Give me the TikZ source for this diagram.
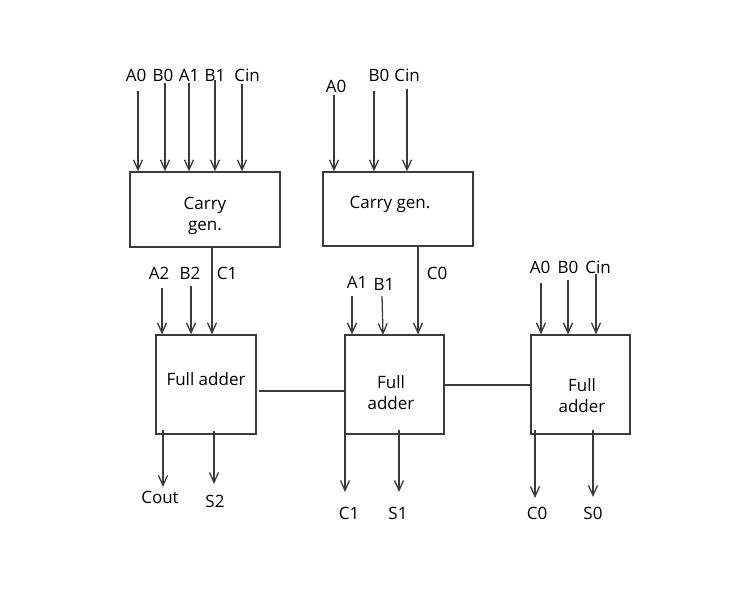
\documentclass[tikz,border=0pt]{standalone}
\usepackage{fontspec}
\setmainfont{Open Sans}
\usetikzlibrary{arrows.meta}
\definecolor{linec}{HTML}{3A3A3A}
\begin{document}
\begin{tikzpicture}[x=1pt,y=-1pt,
  box/.style={draw=linec, line width=1.3pt, inner sep=0pt},
  wire/.style={draw=linec, line width=1.3pt},
  arr/.style={wire, -{Straight Barb[length=10pt,width=9pt,line width=1.3pt]}},
  lbl/.style={font=\fontsize{17}{21}\selectfont, inner sep=0pt, align=center}]
\useasboundingbox[fill=white] (0,0) rectangle (747,609);

% boxes
\node[box, minimum width=150pt, minimum height=75pt] (cg1) at (205,209.5) {};
\node[box, minimum width=150pt, minimum height=74pt] (cg2) at (398,209) {};
\node[box, minimum width=100pt, minimum height=99pt] (fa2) at (206,384.5) {};
\node[box, minimum width=99pt, minimum height=99pt] (fa1) at (394.5,384.5) {};
\node[box, minimum width=99pt, minimum height=99pt] (fa0) at (580.5,384.5) {};

% box texts
\node[lbl] (tcg1) at (205,216) {Carry\\gen.};
\node[lbl] (tcg2) at (390,204) {Carry gen.};
\node[lbl] (tfa2) at (206,379) {Full adder};
\node[lbl] (tfa1) at (391,393) {Full\\adder};
\node[lbl] (tfa0) at (582,396) {Full\\adder};

% carry gen 1 inputs
\node[lbl] (l1a0) at (136,75) {A0};
\node[lbl] (l1b0) at (163,75) {B0};
\node[lbl] (l1a1) at (189,75) {A1};
\node[lbl] (l1b1) at (215,75) {B1};
\node[lbl] (l1ci) at (247,75) {Cin};
\coordinate (s1a0) at (138,91);
\coordinate (s1b0) at (165,83);
\coordinate (s1a1) at (189,83);
\coordinate (s1b1) at (215,80);
\coordinate (s1ci) at (242,84);
\foreach \p in {s1a0,s1b0,s1a1,s1b1,s1ci}
  \draw[arr] (\p) -- (\p |- cg1.north);

% carry gen 2 inputs
\node[lbl] (l2a0) at (336,86) {A0};
\node[lbl] (l2b0) at (379,75) {B0};
\node[lbl] (l2ci) at (407,75) {Cin};
\coordinate (s2a0) at (334,95);
\coordinate (s2b0) at (374,91);
\coordinate (s2ci) at (407,89);
\foreach \p in {s2a0,s2b0,s2ci}
  \draw[arr] (\p) -- (\p |- cg2.north);

% full adder 2 inputs
\node[lbl] (l3a2) at (159,273) {A2};
\node[lbl] (l3b2) at (190,273) {B2};
\node[lbl] (l3c1) at (227,273) {C1};
\coordinate (s3a2) at (162,288);
\coordinate (s3b2) at (191,286);
\draw[arr] (s3a2) -- (s3a2 |- fa2.north);
\draw[arr] (s3b2) -- (s3b2 |- fa2.north);
\coordinate (o1) at (212,247);
\draw[arr] (o1) -- (o1 |- fa2.north);

% full adder 1 inputs
\node[lbl] (l4a1) at (357,282) {A1};
\node[lbl] (l4b1) at (384,284) {B1};
\node[lbl] (l4c0) at (437,273) {C0};
\coordinate (s4a1) at (352,296);
\coordinate (s4b1) at (382,296);
\draw[arr] (s4a1) -- (s4a1 |- fa1.north);
\draw[arr] (s4b1) -- (383,335);
\coordinate (o2) at (418,246);
\draw[arr] (o2) -- (o2 |- fa1.north);

% full adder 0 inputs
\node[lbl] (l5a0) at (540,267) {A0};
\node[lbl] (l5b0) at (568,267) {B0};
\node[lbl] (l5ci) at (598,267) {Cin};
\coordinate (s5a0) at (541,283);
\coordinate (s5b0) at (568,280);
\coordinate (s5ci) at (596,274);
\foreach \p in {s5a0,s5b0,s5ci}
  \draw[arr] (\p) -- (\p |- fa0.north);

% horizontal links
\coordinate (h2) at (259,391);
\draw[wire] (h2) -- (h2 -| fa1.west);
\coordinate (h1) at (443,385);
\draw[wire] (h1) -- (h1 -| fa0.west);

% outputs
\node[lbl] (lco) at (160,497) {Cout};
\node[lbl] (ls2) at (215,501) {S2};
\node[lbl] (lc1) at (349,513) {C1};
\node[lbl] (ls1) at (398,513) {S1};
\node[lbl] (lc0) at (537,513) {C0};
\node[lbl] (ls0) at (593,513) {S0};
\coordinate (ocoA) at (163,430); \coordinate (ocoB) at (163,487);
\coordinate (os2A) at (214,431); \coordinate (os2B) at (214,484);
\coordinate (oc1A) at (345,432); \coordinate (oc1B) at (345,492);
\coordinate (os1A) at (399,430); \coordinate (os1B) at (399,492);
\coordinate (oc0A) at (535,430); \coordinate (oc0B) at (535,498);
\coordinate (os0A) at (593,430); \coordinate (os0B) at (593,497);
\draw[arr] (ocoA) -- (ocoB);
\draw[arr] (os2A) -- (os2B);
\draw[arr] (oc1A) -- (oc1B);
\draw[arr] (os1A) -- (os1B);
\draw[arr] (oc0A) -- (oc0B);
\draw[arr] (os0A) -- (os0B);
\end{tikzpicture}
\end{document}
